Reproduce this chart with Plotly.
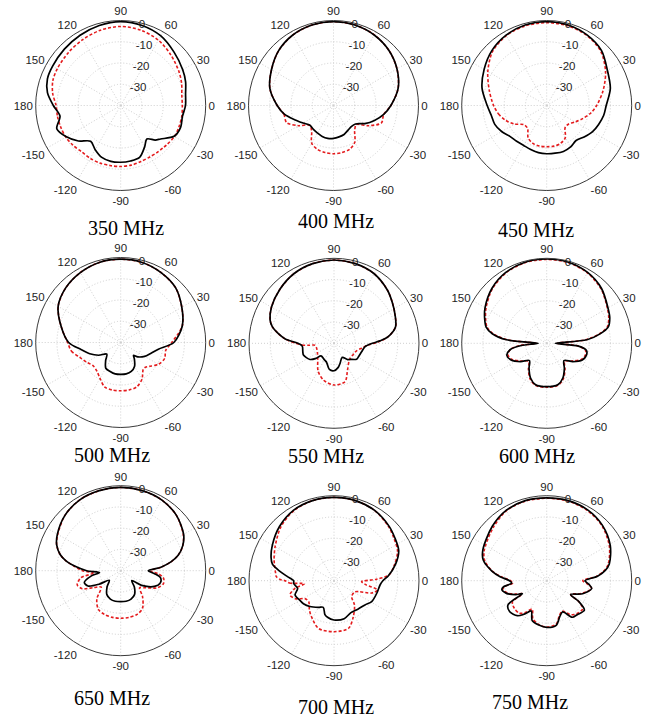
import plotly.graph_objects as go

# Radiation patterns (dB, normalised) at nine frequencies.
# Solid black = simulated, dashed red = measured.
freq_labels = ["350 MHz", "400 MHz", "450 MHz",
               "500 MHz", "550 MHz", "600 MHz",
               "650 MHz", "700 MHz", "750 MHz"]

theta_350 = [-180, -170, -160, -150, -140, -130, -120, -110, -100, -90, -80, -70, -60, -52, -45, -40, -30, -20, -10, 0,
             10, 20, 30, 45, 60, 75, 90, 105, 120, 135, 150, 160, 170]
sim_350 = [-8.3, -11, -8, -10.5, -14, -18, -16, -14, -13.3, -13.3, -13.5, -14, -17.5, -20, -17, -15.5, -11, -10, -10.5, -9.5,
           -9, -7.5, -6.3, -4.5, -2.2, -1, -0.5, -1, -1.8, -2.5, -3, -3.3, -5]
meas_350 = [-9.6, -9.8, -10, -10.2, -10.8, -11.5, -11.3, -11.2, -11.3, -11.3, -11.5, -12, -12.2, -12, -11.8, -11.5, -10.8, -10.8, -10.8, -11,
            -10.8, -9.5, -8.3, -6.5, -4.5, -3.3, -2.8, -3.3, -4.2, -5, -5.5, -6, -7.5]

theta_400 = [-180, -170, -160, -150, -140, -130, -120, -110, -100, -90, -80, -70, -60, -50, -40, -30, -20, -10, 0,
             15, 30, 45, 60, 75, 90, 105, 120, 135, 150, 165]
sim_400 = [-13.5, -16.5, -20.5, -23.5, -25.5, -25.3, -25, -24.5, -24.3, -24.5, -25, -25.5, -26.5, -27, -26.5, -23, -19.5, -16, -13,
           -8.5, -5.5, -3.2, -1.7, -0.8, -0.5, -0.8, -1.7, -3.5, -6.3, -9]
meas_400 = [-13.5, -16.3, -16.5, -21, -25.5, -24, -19.5, -18, -17.5, -17.3, -17.5, -18, -20, -24.5, -26, -21, -16, -16, -13,
            -8.5, -5.5, -3.2, -1.6, -0.8, -0.5, -0.8, -1.7, -3.5, -6.3, -9]

theta_450 = [-180, -170, -160, -150, -140, -130, -120, -110, -100, -90, -80, -70, -60, -50, -40, -30, -20, -10, 0,
             15, 30, 45, 60, 75, 90, 105, 120, 135, 150, 165]
sim_450 = [-12, -13.5, -14, -15.5, -17.4, -18, -18.3, -18, -17.5, -17.3, -17.2, -17, -17.5, -18.5, -17, -15.2, -14, -12.8, -12,
           -9, -7, -3.5, -1.8, -0.8, -0.5, -0.8, -1.8, -3.5, -6, -8.5]
meas_450 = [-15, -17, -19.5, -22.5, -26, -26, -22.5, -21, -20.6, -20.6, -20.6, -21, -22.5, -26.5, -26.5, -24.5, -22, -19, -16.5,
            -12.5, -8, -4, -2, -1.2, -1, -1.2, -2, -4, -8, -12]

theta_500 = [-180, -170, -160, -150, -140, -130, -120, -110, -100, -90, -80, -70, -60, -50, -45, -40, -30, -20, -10, 0,
             15, 30, 45, 60, 75, 90, 105, 120, 135, 150, 165]
sim_500 = [-15.5, -21, -24.5, -28, -31.5, -29, -26, -25.5, -25, -25, -25, -25.5, -27, -30, -31.5, -29.5, -27, -25, -22, -15,
           -10, -6.8, -3.5, -2, -1, -0.8, -1, -2, -3.5, -6, -11]
meas_500 = [-15, -16.5, -19.5, -21.5, -23, -22.5, -20.5, -17.8, -17.3, -17.3, -17.3, -17.8, -20, -23.5, -23.5, -22.5, -19.5, -18, -18.5, -16,
            -10, -6.8, -3.5, -2, -1, -0.8, -1, -2, -3.5, -6, -11]

theta_550_sim = [-180, -175, -165, -159, -146, -140, -136, -120, -112, -100, -90, -80, -73, -60, -50, -45, -35, -25, -17, -6, 0,
                 3, 7, 15, 25, 35, 45, 60, 75, 90, 105, 120, 135, 150, 160, 165, 170, 175]
sim_550 = [-23, -25, -24.8, -24.6, -26.4, -29, -31.5, -31, -30.5, -27.5, -27.1, -28.5, -30.2, -32.3, -30, -29.3, -27, -26.8, -26.4, -25.3, -22,
           -18.4, -14.3, -10, -8.3, -6.5, -4.5, -2.2, -1.2, -0.8, -1.2, -2.2, -4, -6, -8, -10, -13.3, -17]
theta_550_meas = [-180, -177, -175.5, -174, -165, -150, -135, -120, -106, -90, -74, -63, -50, -43, -30, -20, -10, -3,
                  2, 7, 15, 25, 35, 45, 60, 75, 90, 105, 120, 135, 150, 160, 165, 170, 175]
meas_550 = [-22, -25, -28, -31, -31.5, -31, -29.2, -25, -22, -20.4, -21.2, -26, -29, -29.6, -29.5, -29, -26.8, -24,
            -19, -14.3, -10, -8.3, -6.5, -4.5, -2.2, -1.2, -0.8, -1.2, -2.2, -4, -6, -8, -10, -13.3, -17]

theta_600 = [-180, -175, -170, -163, -155, -145, -135, -125, -115, -105, -90, -75, -65, -55, -45, -35, -25, -17, -10, -5, 0,
             5, 10, 15, 22, 30, 45, 60, 75, 90, 105, 120, 135, 150, 158, 165, 170, 175]
sim_600 = [-36, -28, -22.5, -20.4, -21.5, -25, -28.5, -25.5, -22, -19.8, -19.6, -19.8, -22, -25.5, -28.5, -25, -21.5, -20.5, -21, -25, -36,
           -21, -14.5, -10, -8, -6.7, -3.5, -1.5, -0.5, -0.3, -0.5, -1.5, -3.5, -6.5, -8.5, -10.5, -14, -21]
meas_600 = [-35, -27, -22.5, -21, -22, -25.5, -28, -25, -21.5, -19.5, -19.3, -19.5, -21.5, -25, -28, -25.5, -22, -21, -21.5, -25, -35,
            -22, -15, -10.5, -8.5, -7, -3.8, -1.7, -0.7, -0.5, -0.7, -1.7, -3.8, -7, -9, -11, -14.5, -21.5]

theta_650 = [-180, -175, -170, -162, -155, -148, -140, -130, -120, -110, -100, -90, -80, -70, -60, -50, -42, -35, -25, -17, -10, -5, 0,
             5, 10, 15, 22, 30, 45, 60, 75, 90, 105, 120, 135, 150, 158, 165, 170, 175]
sim_650 = [-24, -30, -26, -22, -23, -28, -33, -30, -27, -25.8, -25.4, -25.4, -25.4, -25.8, -27, -30, -33, -28, -22.5, -20.5, -21, -24, -27,
           -21, -16, -12, -8.5, -5.8, -3, -1.5, -1, -0.8, -1, -1.5, -3, -5.6, -7.5, -10.5, -14, -19]
meas_650 = [-22, -27, -21, -18.5, -20, -25, -28, -22.5, -19, -18, -17.7, -17.6, -17.7, -18, -19.5, -24, -28, -26, -21, -19, -19.5, -22, -26,
            -21, -16, -12, -8.5, -6, -3, -1.5, -1, -0.8, -1, -1.5, -3, -5.8, -7.5, -10.5, -14, -18.5]

theta_700_sim = [-180, -176, -168, -160, -150, -143, -133, -120, -112, -105, -100, -90, -75, -62, -50, -38, -29, -16, -5, 0,
                 5, 15, 25, 35, 45, 60, 75, 90, 105, 120, 135, 150, 160, 165, 170, 175]
sim_700 = [-21, -21, -22.5, -20.5, -21.5, -22, -23.4, -25.5, -26.5, -23.5, -22.5, -21.5, -21.5, -23, -22.5, -21.5, -19.7, -19, -18.2, -17,
           -14.4, -10, -6.4, -5, -3.5, -1.8, -1, -0.8, -1, -1.8, -3.8, -6.5, -8.5, -10, -14, -18]
theta_700_meas = [-180, -177, -174, -169, -162, -155, -148, -140, -130, -122, -108, -90, -73, -62, -50, -42, -28, -18, -12, -7, -2,
                  2, 6, 15, 25, 35, 45, 60, 75, 90, 105, 120, 135, 150, 160, 165, 172, 176, 179]
meas_700 = [-17, -19, -26, -21.3, -18.2, -20, -24, -24.5, -22, -20, -16.4, -16, -16.6, -20.7, -25, -28.8, -28.8, -21.3, -19, -25, -27,
            -20, -14, -10.5, -7, -5.5, -3.8, -1.8, -1, -0.8, -1, -2, -4.5, -8, -10, -11, -12.2, -12.8, -15]

theta_750 = [-180, -176, -172, -169, -163, -156, -152, -148, -140, -130, -124, -117, -110, -100, -90, -78, -70, -63, -55, -48, -38, -33, -30,
             -20, -10, -5, 0, 5, 10, 15, 29, 45, 60, 75, 90, 105, 120, 135, 154, 162, 170, 175]
sim_750 = [-22.5, -23.5, -19.5, -18.5, -20, -24, -27, -18.5, -17.3, -18.5, -21, -24, -20, -18.8, -18, -18.5, -22, -23.5, -19, -18.5, -17.5, -22, -27,
           -22, -18.5, -20, -22, -16, -12, -9.5, -5.8, -3, -1.5, -1, -1, -1, -1.8, -3.8, -6.6, -8.6, -13.8, -18]
meas_750 = [-23, -24, -20, -19, -20.5, -24.5, -27, -21, -20, -20, -22, -25, -21, -19, -18.2, -19, -22.5, -24, -20.5, -19, -18.5, -22, -27,
            -22.5, -18.5, -20.5, -23, -16.5, -12.5, -10, -6.3, -3.3, -1.8, -1.2, -1.2, -1.2, -2, -4.5, -7.3, -9.3, -14, -18.5]

patterns = [
    (theta_350, sim_350, theta_350, meas_350),
    (theta_400, sim_400, theta_400, meas_400),
    (theta_450, sim_450, theta_450, meas_450),
    (theta_500, sim_500, theta_500, meas_500),
    (theta_550_sim, sim_550, theta_550_meas, meas_550),
    (theta_600, sim_600, theta_600, meas_600),
    (theta_650, sim_650, theta_650, meas_650),
    (theta_700_sim, sim_700, theta_700_meas, meas_700),
    (theta_750, sim_750, theta_750, meas_750),
]

angle_ticks = [0, 30, 60, 90, 120, 150, 180, 210, 240, 270, 300, 330]
angle_text = ["0", "30", "60", "90", "120", "150", "180", "-150", "-120", "-90", "-60", "-30"]
radial_ticks = [-30, -20, -10, 0]
radial_text = ["-30", "-20", "-10", "0"]

# Panel centres (px) and caption centres (px) on the 650 x 717 page
W, H = 650, 717
R = 85
centres = [(120.7, 105.5), (333.5, 105.5), (546.7, 105.5),
           (120.7, 342.5), (334.0, 343.3), (546.7, 343.3),
           (120.7, 570.7), (334.0, 580.7), (546.7, 580.7)]
captions = [(126, 228), (336, 221), (536, 230),
            (112, 455), (326, 456), (537, 456),
            (112, 698), (336, 707), (530, 702)]


def closed(seq):
    return list(seq) + [seq[0]]


fig = go.Figure()
tick_font = dict(family="Liberation Sans, Arial, sans-serif", size=11.5, color="#1e1e1e")
grid_col = "#cfcfcf"

for i, (th_s, sim, th_m, meas) in enumerate(patterns):
    pid = "polar" if i == 0 else f"polar{i + 1}"
    fig.add_trace(go.Scatterpolar(
        theta=closed(th_m), r=closed(meas), mode="lines", subplot=pid,
        line=dict(color="#e41a1c", width=1.6, dash="3px,2px", shape="spline", smoothing=0.85),
        showlegend=False, hoverinfo="skip"))
    fig.add_trace(go.Scatterpolar(
        theta=closed(th_s), r=closed(sim), mode="lines", subplot=pid,
        line=dict(color="black", width=1.7, shape="spline", smoothing=0.85),
        showlegend=False, hoverinfo="skip"))

    cx, cy = centres[i]
    fig.layout[pid] = dict(
        domain=dict(x=[(cx - R) / W, (cx + R) / W], y=[1 - (cy + R) / H, 1 - (cy - R) / H]),
        bgcolor="white",
        angularaxis=dict(
            rotation=0, direction="counterclockwise",
            tickmode="array", tickvals=angle_ticks, ticktext=angle_text,
            showline=True, linecolor="#3a3a3a", linewidth=1,
            gridcolor=grid_col, griddash="1px,2px", gridwidth=1,
            ticks="", tickfont=tick_font,
        ),
        radialaxis=dict(
            range=[-40, 0], tickmode="array", tickvals=radial_ticks, ticktext=radial_text,
            angle=82, tickangle=82, side="clockwise", showline=False, ticks="",
            gridcolor=grid_col, griddash="1px,2px", gridwidth=1,
            tickfont=tick_font,
        ),
    )

    tx, ty = captions[i]
    fig.add_annotation(
        x=tx / W, y=1 - ty / H, xref="paper", yref="paper",
        text=freq_labels[i], showarrow=False, xanchor="center", yanchor="middle",
        font=dict(family="Liberation Serif, Times New Roman, serif", size=20, color="black"),
    )

fig.update_layout(
    width=W, height=H, margin=dict(l=0, r=0, t=0, b=0),
    paper_bgcolor="white", plot_bgcolor="white",
    font=dict(color="#1e1e1e"),
)

fig.write_html("out.html")
